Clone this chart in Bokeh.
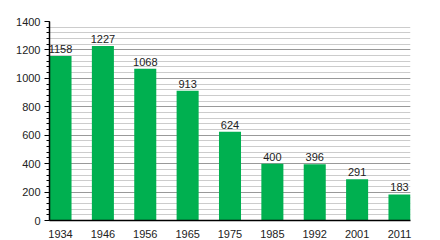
from bokeh.plotting import figure
from bokeh.models import ColumnDataSource, FixedTicker, SingleIntervalTicker, Range1d
from bokeh.core.properties import value
from bokeh.embed import file_html
from bokeh.resources import INLINE

years = ["1934", "1946", "1956", "1965", "1975", "1985", "1992", "2001", "2011"]
population = [1158, 1227, 1068, 913, 624, 400, 396, 291, 183]
y_ticks = [0, 200, 400, 600, 800, 1000, 1200, 1400]

xs = list(range(len(years)))
src = ColumnDataSource(dict(x=xs, y=population, lab=[str(v) for v in population]))

FONT = "Liberation Sans"

p = figure(width=440, height=240, output_backend="svg", toolbar_location=None,
           x_range=Range1d(-0.26, len(years) - 1 + 0.26), y_range=Range1d(0, 1400),
           min_border_left=49, min_border_right=30, min_border_top=21, min_border_bottom=20)
p.outline_line_color = None
p.background_fill_color = "white"
p.border_fill_color = "white"

p.vbar(x="x", top="y", width=0.52, source=src, fill_color="#00B050", line_color=None)
p.text(x="x", y="y", text="lab", source=src, text_align="center", text_baseline="bottom",
       y_offset=-3, text_font=value(FONT), text_font_size="11px", text_color="#222222")

# x axis
p.xaxis.ticker = FixedTicker(ticks=xs)
p.xaxis.major_label_overrides = {i: y for i, y in enumerate(years)}
p.xaxis.major_tick_line_color = None
p.xaxis.minor_tick_line_color = None
p.xaxis.axis_line_color = "black"
p.xaxis.axis_line_width = 1.5
p.xaxis.major_label_standoff = 3
p.xaxis.major_label_text_font = FONT
p.xaxis.major_label_text_font_size = "11px"
p.xaxis.major_label_text_color = "#222222"
p.xgrid.grid_line_color = None

# y axis
yt = SingleIntervalTicker(interval=200, num_minor_ticks=5)
p.yaxis.ticker = yt
p.yaxis.axis_line_color = "black"
p.yaxis.axis_line_width = 1.5
p.yaxis.major_tick_line_color = "black"
p.yaxis.major_tick_in = 0
p.yaxis.major_tick_out = 5
p.yaxis.minor_tick_line_color = "black"
p.yaxis.minor_tick_in = 0
p.yaxis.minor_tick_out = 3
p.yaxis.major_label_standoff = 4
p.yaxis.major_label_text_font = FONT
p.yaxis.major_label_text_font_size = "11px"
p.yaxis.major_label_text_color = "#222222"

p.ygrid.ticker = yt
p.ygrid.grid_line_color = "#999999"
p.ygrid.grid_line_width = 1
p.ygrid.minor_grid_line_color = "#cccccc"
p.ygrid.minor_grid_line_width = 1

open("out.html", "w").write(file_html(p, INLINE))
